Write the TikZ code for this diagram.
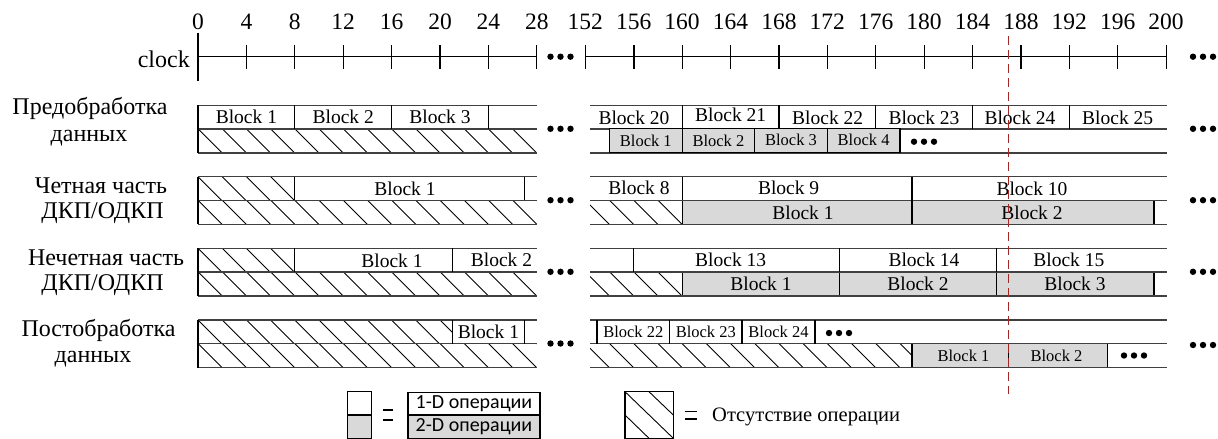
\documentclass[tikz,border=0pt]{standalone}
\usepackage{fontspec}
\setmainfont{Liberation Serif}
\newfontfamily\legfont{Carlito}
\newcommand\hatchr[5]{%
  \begin{scope}
    \clip (#1,#2) rectangle (#3,#4);
    \pgfmathsetmacro\hh{#4-#2}
    \foreach \k in {-2,...,30}{
      \draw[hl] ({#5+24.2*\k},#2) -- ++(\hh,\hh);
    }
  \end{scope}}
\newcommand\tridots[2]{%
  \foreach \d in {-10,0,10}{\fill ({#1+\d},#2) circle (3.2pt);}}
\begin{document}
\begin{tikzpicture}[x=1pt,y=-1pt,
  ln/.style={line width=1.2pt, draw=black},
  rl/.style={line width=1.4pt, draw=black!75},
  vd/.style={line width=1.2pt, draw=black},
  gbox/.style={fill=gray!30, draw=black, line width=1.2pt},
  hl/.style={line width=0.9pt, draw=black},
  lab/.style={font=\fontsize{24}{28}\selectfont, inner sep=0pt},
  num/.style={font=\fontsize{23.5}{26}\selectfont, inner sep=0pt},
  bt/.style={font=\fontsize{19.5}{22}\selectfont, inner sep=0pt},
  st/.style={font=\fontsize{16.5}{20}\selectfont, inner sep=0pt},
  lt/.style={font=\legfont\fontsize{20}{24}\selectfont, inner sep=0pt},
  ot/.style={font=\fontsize{20.5}{24}\selectfont, inner sep=0pt},
]
\useasboundingbox (0,0) rectangle (1218,439);

% ---------- clock ----------
\node[lab, anchor=east] (clk) at (190,59) {clock};
\draw[ln] (198,32.7) -- (198,80.7);
\draw[ln] (198,56.7) -- (536.8,56.7);
\draw[ln] (585.3,56.7) -- (1165.8,56.7);
\foreach \t in {4,8,...,28} \draw[ln] ({198+12.1*\t},45) -- ++(0,24);
\foreach \t in {152,160,164,...,184,192,196,200} \draw[ln] ({585.3+12.1*(\t-152)},45) -- ++(0,24);
\foreach \t in {156,188} \draw[line width=1.8pt] ({585.3+12.1*(\t-152)},45) -- ++(0,24);
\foreach \t in {0,4,...,28} \node[num] (n\t) at ({198+12.1*\t},21.7) {\t};
\foreach \t in {152,156,...,200} \node[num] (n\t) at ({585.3+12.1*(\t-152)},21.7) {\t};

% ---------- left labels ----------
\node[lab] (l1a) at (90,108) {Предобработка};
\node[lab] (l1b) at (89,138) {данных};
\node[lab] (l2a) at (101,186) {Четная часть};
\node[lab] (l2b) at (102.5,213) {ДКП/ОДКП};
\node[lab] (l3a) at (106,258) {Нечетная часть};
\node[lab] (l3b) at (102.5,285) {ДКП/ОДКП};
\node[lab] (l4a) at (98.5,330) {Постобработка};
\node[lab] (l4b) at (93,359) {данных};

% ---------- row 1 ----------
\hatchr{198}{128.8}{536.8}{152.8}{198}
\foreach \y in {105.3,128.8,152.8}{
  \draw[rl] (198,\y) -- (536.8,\y);
  \draw[rl] (590,\y) -- (1166.6,\y);}
\draw[vd] (198,105.3) -- (198,152.8);
\foreach \x in {294.8,391.6,488.4} \draw[vd] (\x,105.3) -- (\x,128.8);
\node[bt] (r1b1) at (246.4,117.3) {Block 1};
\node[bt] (r1b2) at (343.2,117.3) {Block 2};
\node[bt] (r1b3) at (440,117.3) {Block 3};
\foreach \x in {682.1,778.9,875.7,972.5,1069.3} \draw[vd] (\x,105.3) -- (\x,128.8);
\node[bt] (r1b20) at (634,118) {Block 20};
\node[bt] (r1b21) at (730.7,115) {Block 21};
\node[bt] (r1b22) at (827.7,118) {Block 22};
\node[bt] (r1b23) at (924,118) {Block 23};
\node[bt] (r1b24) at (1020,118) {Block 24};
\node[bt] (r1b25) at (1117.7,118) {Block 25};
\draw[gbox] (609.5,128.8) rectangle (682.1,152.8);
\draw[gbox] (682.1,128.8) rectangle (754.7,152.8);
\draw[gbox] (754.7,128.8) rectangle (827.3,152.8);
\draw[gbox] (827.3,128.8) rectangle (899.9,152.8);
\node[st] (r1g1) at (645.8,141) {Block 1};
\node[st] (r1g2) at (718.4,141) {Block 2};
\node[st] (r1g3) at (791,140) {Block 3};
\node[st] (r1g4) at (863.6,140) {Block 4};
\tridots{924}{141.7}

% ---------- row 2 ----------
\hatchr{198}{176.7}{294.8}{200.2}{198}
\hatchr{198}{200.2}{536.8}{224.2}{198}
\hatchr{590}{200.2}{682.1}{224.2}{585.3}
\draw[gbox] (682.1,200.2) rectangle (912,224.2);
\draw[gbox] (912,200.2) rectangle (1154,224.2);
\foreach \y in {176.7,200.2,224.2}{
  \draw[rl] (198,\y) -- (536.8,\y);
  \draw[rl] (590,\y) -- (1166.6,\y);}
\draw[vd] (198,176.7) -- (198,224.2);
\draw[vd] (294.8,176.7) -- (294.8,200.2);
\draw[vd] (524.7,176.7) -- (524.7,200.2);
\node[bt] (r2b1) at (405,188.5) {Block 1};
\draw[vd] (682.1,176.7) -- (682.1,200.2);
\draw[vd] (912,176.7) -- (912,224.2);
\node[bt] (r2b8) at (639,188) {Block 8};
\node[bt] (r2b9) at (788.6,188) {Block 9};
\node[bt] (r2b10) at (1032,189) {Block 10};
\node[bt] (r2g1) at (803,212.5) {Block 1};
\node[bt] (r2g2) at (1032,212.5) {Block 2};

% ---------- row 3 ----------
\hatchr{198}{248.3}{294.8}{271.8}{198}
\hatchr{198}{271.8}{536.8}{295.8}{198}
\hatchr{590}{271.8}{682.1}{295.8}{585.3}
\draw[gbox] (682.1,271.8) rectangle (839.4,295.8);
\draw[gbox] (839.4,271.8) rectangle (996.7,295.8);
\draw[gbox] (996.7,271.8) rectangle (1154,295.8);
\foreach \y in {248.3,271.8,295.8}{
  \draw[rl] (198,\y) -- (536.8,\y);
  \draw[rl] (590,\y) -- (1166.6,\y);}
\draw[vd] (198,248.3) -- (198,295.8);
\draw[vd] (294.8,248.3) -- (294.8,271.8);
\draw[vd] (452.1,248.3) -- (452.1,271.8);
\node[bt] (r3b1) at (392,260.5) {Block 1};
\node[bt] (r3b2) at (501.5,259.5) {Block 2};
\foreach \x in {633.7,839.4,996.7} \draw[vd] (\x,248.3) -- (\x,271.8);
\node[bt] (r3b13) at (730.7,260) {Block 13};
\node[bt] (r3b14) at (924,260) {Block 14};
\node[bt] (r3b15) at (1068.8,260) {Block 15};
\node[bt] (r3g1) at (761,284) {Block 1};
\node[bt] (r3g2) at (918,284) {Block 2};
\node[bt] (r3g3) at (1075,284) {Block 3};

% ---------- row 4 ----------
\hatchr{198}{320}{452.1}{343.5}{198}
\hatchr{198}{343.5}{536.8}{367.5}{198}
\hatchr{590}{343.5}{912}{367.5}{585.3}
\draw[gbox] (912,343.5) rectangle (1008.5,367.5);
\draw[gbox] (1008.5,343.5) rectangle (1107.5,367.5);
\foreach \y in {320,343.5,367.5}{
  \draw[rl] (198,\y) -- (536.8,\y);
  \draw[rl] (590,\y) -- (1166.6,\y);}
\draw[vd] (198,320) -- (198,367.5);
\draw[vd] (452.1,320) -- (452.1,343.5);
\draw[vd] (524.7,320) -- (524.7,343.5);
\node[bt] (r4b1) at (488.4,332) {Block 1};
\foreach \x in {597,669.6,742,815} \draw[vd] (\x,320) -- (\x,343.5);
\node[st] (r4b22) at (633.3,332) {Block 22};
\node[st] (r4b23) at (705.8,332) {Block 23};
\node[st] (r4b24) at (778.5,332) {Block 24};
\tridots{839}{333}
\node[st] (r4g1) at (963.5,356) {Block 1};
\node[st] (r4g2) at (1056.5,356) {Block 2};
\tridots{1134}{355.5}

% ---------- gap and right dots ----------
\foreach \y in {56.7,128.8,200.2,271.8,343.5} \tridots{560.5}{\y};
\foreach \y in {56.7,128.8,200.2,271.8,345} \tridots{1203}{\y};

% ---------- red dashed line ----------
\draw[red, line width=1.2pt, dash pattern=on 9pt off 5pt] (1008.5,36) -- (1008.5,394);

% ---------- legend ----------
\draw[ln] (347.3,391.7) rectangle (371.3,415);
\draw[ln, fill=gray!30] (347.3,415) rectangle (371.3,438.3);
\draw[line width=1.2pt] (383,410) -- (393,410) (383,420) -- (393,420);
\draw[ln] (408,392.3) rectangle (540,415);
\draw[ln, fill=gray!30] (408,415) rectangle (540,438.3);
\node[lt] (leg1) at (474,403.5) {1-D операции};
\node[lt] (leg2) at (474,426.5) {2-D операции};
\draw[ln] (625,391.7) rectangle (673.3,438.3);
\begin{scope}
\clip (625,391.7) rectangle (673.3,438.3);
\draw[hl] (625,391.7) -- (673.3,438.3);
\draw[hl] (649,391.7) -- (673.3,415);
\draw[hl] (625,415) -- (649,438.3);
\end{scope}
\draw[line width=1.2pt] (685,411.5) -- (697,411.5) (685,419) -- (697,419);
\node[ot, anchor=west] (leg3) at (712,416.5) {Отсутствие операции};
\end{tikzpicture}
\end{document}
